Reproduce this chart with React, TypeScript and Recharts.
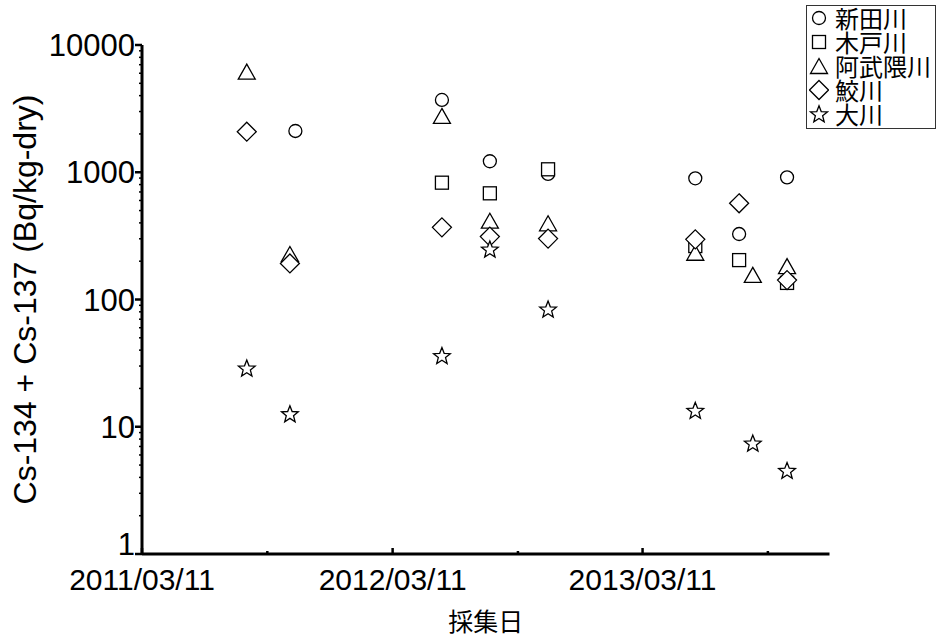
import React from 'react';
import { ScatterChart, Scatter, XAxis, YAxis, Legend } from 'recharts';

const seriesNames = ['新田川', '木戸川', '阿武隈川', '鮫川', '大川'];
const seriesShapes = ['circle', 'square', 'triangle', 'diamond', 'star'];

const niidaDates = ['2011/10/21', '2012/05/22', '2012/07/31', '2012/10/24', '2013/05/27', '2013/07/30', '2013/10/08'];
const niidaValues = [2110, 3700, 1220, 970, 896, 327, 912];

const kidoDates = ['2012/05/22', '2012/07/31', '2012/10/24', '2013/05/27', '2013/07/30', '2013/10/08'];
const kidoValues = [828, 683, 1055, 263, 204, 135];

const abukumaDates = ['2011/08/11', '2011/10/13', '2012/05/22', '2012/07/31', '2012/10/24', '2013/05/27', '2013/08/19', '2013/10/08'];
const abukumaValues = [6170, 228, 2770, 416, 397, 233, 156, 183];

const samegawaDates = ['2011/08/11', '2011/10/13', '2012/05/22', '2012/07/31', '2012/10/24', '2013/05/27', '2013/07/30', '2013/10/08'];
const samegawaValues = [2084, 192, 369, 312, 301, 297, 570, 142];

const okawaDates = ['2011/08/11', '2011/10/13', '2012/05/22', '2012/07/31', '2012/10/24', '2013/05/27', '2013/08/19', '2013/10/08'];
const okawaValues = [28.8, 12.6, 36.1, 248, 83.8, 13.4, 7.41, 4.52];

const xMajorTicks = ['2011/03/11', '2012/03/11', '2013/03/11'];
const xMinorTicks = ['2011/09/10', '2012/09/10', '2013/09/10'];
const xDomain = ['2011/03/11', '2013/12/09'];
const yMajorTicks = [1, 10, 100, 1000, 10000];

const toTime = (s: string) => {
  const [y, m, d] = s.split('/').map(Number);
  return Date.UTC(y, m - 1, d);
};
const fmtDate = (t: number) => {
  const d = new Date(t);
  const p = (n: number) => String(n).padStart(2, '0');
  return `${d.getUTCFullYear()}/${p(d.getUTCMonth() + 1)}/${p(d.getUTCDate())}`;
};

const build = (dates: string[], values: number[]) => dates.map((d, i) => ({ t: toTime(d), v: values[i] }));

const seriesData = [
  build(niidaDates, niidaValues),
  build(kidoDates, kidoValues),
  build(abukumaDates, abukumaValues),
  build(samegawaDates, samegawaValues),
  build(okawaDates, okawaValues),
];

const majorX = new Set(xMajorTicks.map(toTime));
const xTicks = [...xMajorTicks, ...xMinorTicks].map(toTime).sort((a, b) => a - b);
const yTicks: number[] = [];
for (let e = 0; e < 4; e++) {
  for (let k = 1; k < 10; k++) yTicks.push(k * Math.pow(10, e));
}
yTicks.push(10000);
const majorY = new Set(yMajorTicks);

const TICK_FONT = '"Liberation Sans", Arial, sans-serif';
const CJK_FONT = '"Noto Sans CJK JP", "Noto Sans", sans-serif';

const SW = 1.3;

function markerPath(kind: string, cx: number, cy: number) {
  switch (kind) {
    case 'circle':
      return <circle cx={cx} cy={cy} r={6.5} fill="#fff" stroke="#000" strokeWidth={SW} />;
    case 'square':
      return <rect x={cx - 6.5} y={cy - 6.5} width={13} height={13} fill="#fff" stroke="#000" strokeWidth={SW} />;
    case 'triangle':
      return (
        <polygon
          points={`${cx},${cy - 7.5} ${cx + 8.5},${cy + 7.5} ${cx - 8.5},${cy + 7.5}`}
          fill="#fff" stroke="#000" strokeWidth={SW} strokeLinejoin="miter"
        />
      );
    case 'diamond':
      return (
        <polygon
          points={`${cx},${cy - 9.5} ${cx + 9.5},${cy} ${cx},${cy + 9.5} ${cx - 9.5},${cy}`}
          fill="#fff" stroke="#000" strokeWidth={SW}
        />
      );
    default: {
      const R = 8.8;
      const r = 3.8;
      const pts: string[] = [];
      for (let i = 0; i < 10; i++) {
        const a = -Math.PI / 2 + (i * Math.PI) / 5;
        const rad = i % 2 === 0 ? R : r;
        pts.push(`${cx + rad * Math.cos(a)},${cy + 0.6 + rad * Math.sin(a)}`);
      }
      return <polygon points={pts.join(' ')} fill="#fff" stroke="#000" strokeWidth={SW} strokeLinejoin="miter" />;
    }
  }
}

const makeShape = (kind: string) => (props: any) => {
  const { cx, cy } = props;
  if (cx == null || cy == null) return <g />;
  return <g>{markerPath(kind, cx, cy)}</g>;
};

const XTick = (props: any) => {
  const { x, y, payload } = props;
  const major = majorX.has(payload.value);
  return (
    <g>
      <line x1={x} x2={x} y1={y} y2={y - (major ? 6 : 3)} stroke="#000" strokeWidth={2.5} />
      {major && (
        <text x={x} y={y + 36} textAnchor="middle" fontFamily={TICK_FONT} fontSize={30} fill="#000">
          {fmtDate(payload.value)}
        </text>
      )}
    </g>
  );
};

const YTick = (props: any) => {
  const { x, y, payload } = props;
  const major = majorY.has(payload.value);
  return (
    <g>
      <line x1={x} x2={x - (major ? 7 : 3)} y1={y} y2={y} stroke="#000" strokeWidth={major ? 2.5 : 1.5} />
      {major && (
        <text
          x={x - 7}
          y={payload.value === 1 ? y + 1 : y + 11}
          textAnchor="end"
          fontFamily={TICK_FONT}
          fontSize={31}
          fill="#000"
        >
          {payload.value}
        </text>
      )}
    </g>
  );
};

const LegendBox = () => (
  <div
    style={{
      background: '#fff',
      border: '1px solid #333',
      padding: '0px 4px 2px 2px',
      fontFamily: CJK_FONT,
      fontSize: 24,
      lineHeight: '24px',
      color: '#000',
      whiteSpace: 'nowrap',
    }}
  >
    {seriesNames.map((n, i) => (
      <div key={n} style={{ display: 'flex', alignItems: 'center', height: 24 }}>
        <svg width={20} height={22} style={{ marginRight: 6 }}>
          {markerPath(seriesShapes[i], 10, 11)}
        </svg>
        <span>{n}</span>
      </div>
    ))}
  </div>
);

export default function App() {
  const domain = [toTime(xDomain[0]), toTime(xDomain[1])];
  return (
    <div style={{ position: 'absolute', left: 0, top: 0, width: 944, height: 640, background: '#fff', overflow: 'hidden' }}>
      <ScatterChart width={944} height={640} margin={{ top: 45, right: 114.5, bottom: 26, left: 42 }}>
        <XAxis
          dataKey="t"
          type="number"
          scale="linear"
          domain={domain}
          ticks={xTicks}
          interval={0}
          allowDataOverflow
          height={60}
          tickSize={0}
          tickMargin={0}
          tickLine={false}
          axisLine={{ stroke: '#000', strokeWidth: 3 }}
          tick={<XTick />}
          label={{ value: '採集日', position: 'insideBottom', offset: -17, style: { fontFamily: CJK_FONT, fontSize: 25, fill: '#000' } }}
        />
        <XAxis
          xAxisId="top"
          orientation="top"
          type="number"
          domain={domain}
          height={0}
          tick={false}
          tickLine={false}
          axisLine={{ stroke: '#000', strokeWidth: 3 }}
        />
        <YAxis
          dataKey="v"
          type="number"
          scale="log"
          domain={[1, 10000]}
          ticks={yTicks}
          interval={0}
          allowDataOverflow
          width={100}
          tickSize={0}
          tickMargin={0}
          tickLine={false}
          axisLine={{ stroke: '#000', strokeWidth: 3 }}
          tick={<YTick />}
          label={{
            value: 'Cs-134 + Cs-137 (Bq/kg-dry)',
            angle: -90,
            position: 'insideLeft',
            offset: -17,
            style: { textAnchor: 'middle', fontFamily: TICK_FONT, fontSize: 32, fill: '#000' },
          }}
        />
        <YAxis
          yAxisId="r"
          orientation="right"
          type="number"
          domain={[1, 10000]}
          width={0}
          tick={false}
          tickLine={false}
          axisLine={{ stroke: '#000', strokeWidth: 3 }}
        />
        {seriesData.map((d, i) => (
          <Scatter
            key={seriesNames[i]}
            name={seriesNames[i]}
            data={d}
            shape={makeShape(seriesShapes[i])}
            isAnimationActive={false}
          />
        ))}
        <Legend
          layout="vertical"
          align="center"
          verticalAlign="middle"
          wrapperStyle={{ left: 806, top: 5, width: 'auto', height: 'auto' }}
          content={() => <LegendBox />}
        />
      </ScatterChart>
    </div>
  );
}
